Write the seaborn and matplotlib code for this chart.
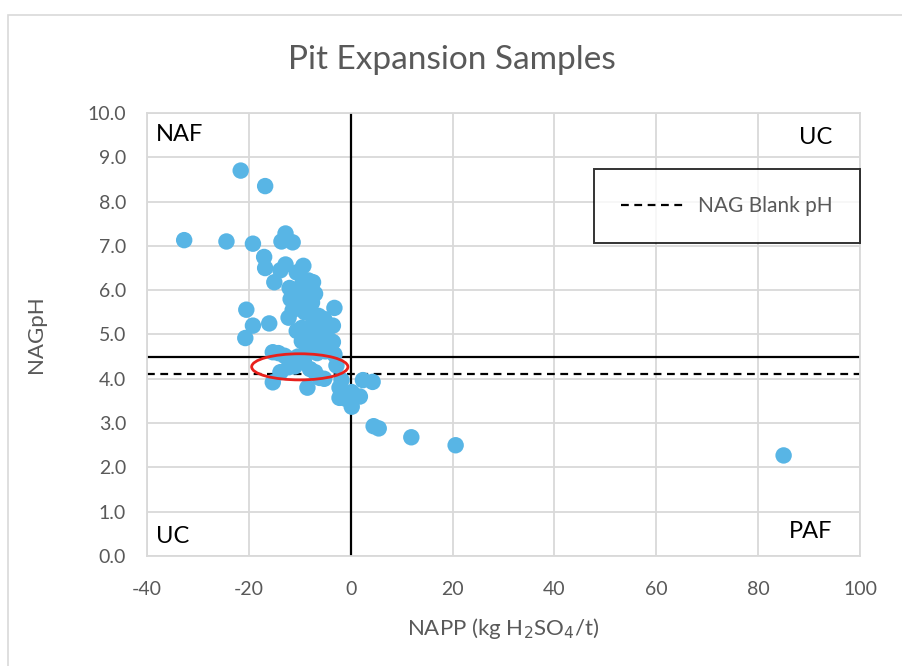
import matplotlib
matplotlib.use("Agg")
import matplotlib.pyplot as plt
import seaborn as sns
import pandas as pd
from matplotlib.patches import Ellipse, Rectangle

# ---- data ----
napp = [-32.7, -24.4, -19.2, -21.6, -16.8, -17.0, -16.8, -15.0, -20.5, -19.2,
        -20.7, -16.0, -15.3, -15.3, -13.8, -8.5, -13.6, -12.8, -11.4, -13.8,
        -12.8, -10.6, -9.3,
        -12.0, -11.8, -10.8, -9.6, -8.3, -7.4, -7.0, -7.6, -9.0, -10.2,
        -11.4, -12.2, -9.0, -7.8, -6.3, -5.2, -4.5, -6.0, -7.5, -9.6,
        -10.6, -8.5, -7.0, -5.5, -4.2, -3.2, -3.5, -3.5, -3.2, -5.0,
        -6.6, -8.6, -9.6, -10.4, -11.8, -13.0, -12.2, -11.0, -9.2, -8.0,
        -7.0, -6.1, -5.2, -2.8, -14.2,
        -1.8, -2.2, -2.2, 0.2, 0.2, 1.8, 2.4, 4.3, -1.0, 4.5,
        5.5, 11.9, 20.6, 85.0]
nag_ph = [7.13, 7.10, 7.05, 8.70, 8.35, 6.75, 6.50, 6.18, 5.56, 5.20,
          4.92, 5.25, 4.60, 3.92, 4.15, 3.80, 7.10, 7.28, 7.08, 6.45,
          6.58, 6.40, 6.55,
          6.05, 5.80, 6.00, 6.12, 6.22, 6.18, 5.92, 5.72, 5.85, 5.62,
          5.55, 5.38, 5.50, 5.45, 5.42, 5.35, 5.18, 5.10, 5.20, 5.15,
          5.08, 4.95, 4.85, 4.90, 4.88, 5.60, 5.20, 4.83, 4.55, 4.62,
          4.58, 4.70, 4.85, 4.50, 4.45, 4.52, 4.26, 4.28, 4.40, 4.22,
          4.15, 4.02, 4.00, 4.30, 4.58,
          3.97, 3.80, 3.57, 3.37, 3.70, 3.60, 3.97, 3.93, 3.55, 2.93,
          2.88, 2.68, 2.50, 2.27]
x_ticks = [-40, -20, 0, 20, 40, 60, 80, 100]
y_ticks = [0, 1, 2, 3, 4, 5, 6, 7, 8, 9, 10]
nag_limit = 4.5
nag_blank = 4.1
quadrant_labels = ["NAF", "UC", "UC", "PAF"]

df = pd.DataFrame({"NAPP": napp, "NAGpH": nag_ph})

sns.set_theme(style="white")
plt.rcParams['font.family'] = ['Lato', 'DejaVu Sans']
plt.rcParams['axes.unicode_minus'] = False

fig = plt.figure(figsize=(9.03, 6.66), dpi=100)
ax = fig.add_axes([147/903, 1 - 556/666, 713/903, 443/666])

grey = "#d9d9d9"
txt = "#595959"
ax.set_axisbelow(True)
ax.grid(True, color=grey, linewidth=1.3)
for s in ax.spines.values():
    s.set_color(grey)
    s.set_linewidth(1.3)

sns.scatterplot(data=df, x="NAPP", y="NAGpH", ax=ax, color="#58b5e5",
                s=140, edgecolor="none", legend=False, zorder=3)

ax.axhline(nag_limit, color="black", lw=1.6, zorder=2)
ax.axvline(0, color="black", lw=1.6, zorder=2)
ax.axhline(nag_blank, color="black", lw=1.6, ls=(0, (3.5, 2.5)), zorder=2,
           label="NAG Blank pH")

ax.add_patch(Ellipse((-10.0, 4.27), 18.9, 0.59, fill=False, edgecolor="#e8201c",
                     lw=2.0, zorder=4))

ax.set_xlim(-40, 100)
ax.set_ylim(0, 10)
ax.set_xticks(x_ticks)
ax.set_yticks(y_ticks)
ax.set_yticklabels([f"{v:.1f}" for v in y_ticks])
ax.tick_params(axis="x", length=0, labelsize=14, colors=txt, pad=18)
ax.tick_params(axis="y", length=0, labelsize=14, colors=txt, pad=15)

ax.set_xlabel("NAPP (kg H$_2$SO$_4$/t)", fontsize=16, color=txt, labelpad=13)
ax.set_ylabel("NAGpH", fontsize=16, color=txt, labelpad=30)

fig.text(0.5, 1 - 60/666, "Pit Expansion Samples", ha="center", va="center",
         fontsize=24, color=txt)

# quadrant labels
ax.text(-38.3, 9.52, quadrant_labels[0], fontsize=17, color="black", va="center")
ax.text(94.6, 9.45, quadrant_labels[1], fontsize=17, color="black", va="center", ha="right")
ax.text(-38.3, 0.45, quadrant_labels[2], fontsize=17, color="black", va="center")
ax.text(94.6, 0.55, quadrant_labels[3], fontsize=17, color="black", va="center", ha="right")

leg = ax.legend(loc="center", bbox_to_anchor=(0.813, 0.79), frameon=True,
                fancybox=False, fontsize=15, borderpad=1.3, handlelength=3.2,
                handletextpad=0.5)
leg.get_frame().set_edgecolor("black")
leg.get_frame().set_linewidth(1.4)
for t in leg.get_texts():
    t.set_color(txt)

# outer chart border
fig.patches.append(Rectangle((8/903, -0.01), 1.0, 1 - 15/666 + 0.01,
                             transform=fig.transFigure, fill=False,
                             edgecolor=grey, lw=1.2))

fig.savefig("out.png", dpi=100, facecolor="white")
